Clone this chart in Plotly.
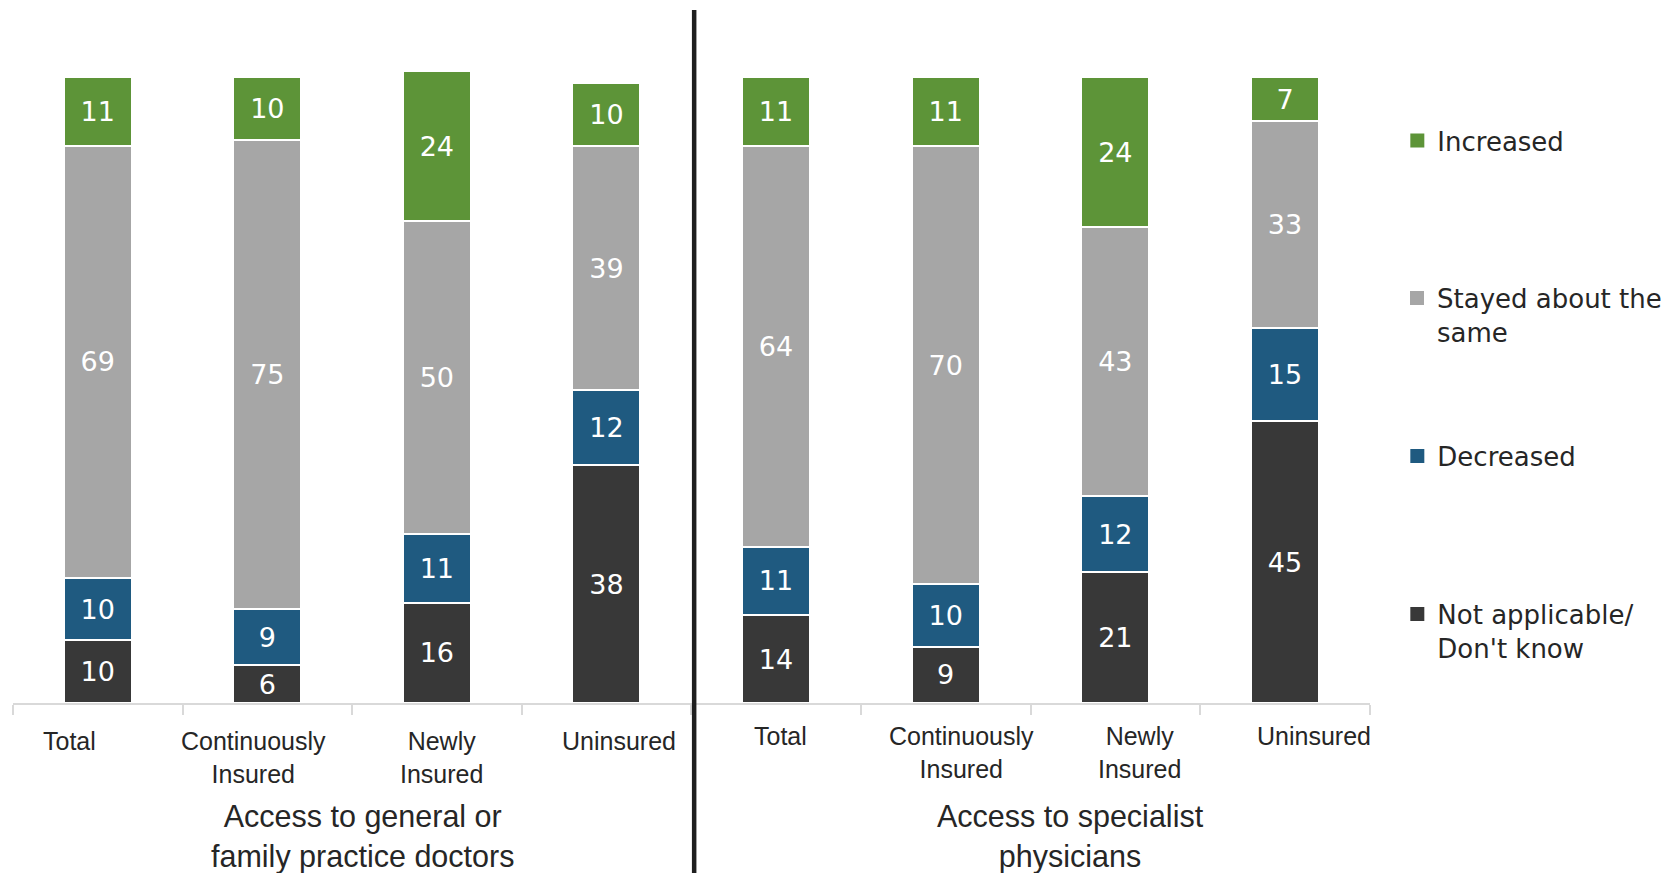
import plotly.graph_objects as go

# Survey categories and response shares (%)
categories = ["Total", "Continuously Insured", "Newly Insured", "Uninsured"]
tick_labels = ["Total", "Continuously<br>Insured", "Newly<br>Insured", "Uninsured"]
panel_titles = ["Access to general or<br>family practice doctors",
                "Access to specialist<br>physicians"]

series_names = ["Not applicable/<br>Don't know", "Decreased",
                "Stayed about the<br>same", "Increased"]

gp_na = [10, 6, 16, 38]
gp_decreased = [10, 9, 11, 12]
gp_same = [69, 75, 50, 39]
gp_increased = [11, 10, 24, 10]

sp_na = [14, 9, 21, 45]
sp_decreased = [11, 10, 12, 15]
sp_same = [64, 70, 43, 33]
sp_increased = [11, 11, 24, 7]

colors = ["#383838", "#1f5a80", "#a6a6a6", "#5d9438"]

W, H = 1667, 873
MB = 170
PLOT_H = H - MB
PX_PER_UNIT = 6.258

fig = go.Figure()

panels = [
    ("x", [gp_na, gp_decreased, gp_same, gp_increased]),
    ("x2", [sp_na, sp_decreased, sp_same, sp_increased]),
]

for xref, stacks in panels:
    for name, vals, col in zip(series_names, stacks, colors):
        fig.add_trace(go.Bar(
            x=categories, y=vals, name=name, xaxis=xref, yaxis="y",
            marker=dict(color=col, line=dict(color="white", width=2)),
            text=vals, textposition="inside", insidetextanchor="middle",
            textangle=0, constraintext="none",
            textfont=dict(family="DejaVu Sans", size=27, color="white"),
            showlegend=False, hoverinfo="skip",
        ))

# Legend entries, one legend per item so each can sit at its own height
legend_ids = ["legend", "legend2", "legend3", "legend4"]
legend_tops = [117, 274.5, 432.5, 590.5]
order = [3, 2, 1, 0]  # Increased at the top
for lid, idx in zip(legend_ids, order):
    fig.add_trace(go.Scatter(
        x=[None], y=[None], mode="markers", xaxis="x", yaxis="y",
        marker=dict(symbol="square", size=14, color=colors[idx]),
        name=series_names[idx], legend=lid, showlegend=True, hoverinfo="skip",
    ))

legend_common = dict(
    x=1399 / W, xanchor="left", yanchor="top", valign="top",
    font=dict(family="DejaVu Sans", size=26, color="#262626"),
    bgcolor="rgba(0,0,0,0)", borderwidth=0,
)
for lid, top in zip(legend_ids, legend_tops):
    fig.layout[lid] = dict(legend_common, y=(PLOT_H - top) / PLOT_H)

axis_common = dict(
    type="category", showgrid=False, zeroline=False,
    showline=True, linecolor="#d9d9d9", linewidth=2,
    ticks="outside", tickson="boundaries", ticklen=10,
    tickcolor="#d9d9d9", tickwidth=2,
    showticklabels=False, range=[-0.5, 3.5], fixedrange=True,
)

fig.update_layout(
    width=W, height=H, autosize=False,
    margin=dict(l=0, r=0, t=0, b=MB),
    paper_bgcolor="white", plot_bgcolor="white",
    barmode="stack", bargap=0.6,
    xaxis=dict(axis_common, domain=[13 / W, 692 / W], anchor="y"),
    xaxis2=dict(axis_common, domain=[692 / W, 1371.5 / W], anchor="y"),
    yaxis=dict(range=[0, PLOT_H / PX_PER_UNIT], visible=False, fixedrange=True),
)

# Category labels under each bar
label_font = dict(family="Liberation Sans", size=25, color="#262626")
left_shift = [-28, -14, 5, 13]
right_shift = [4, 16, 24, 29]
for xref, shifts, base in (("x", left_shift, -38), ("x2", right_shift, -33)):
    for cat, lab, dx in zip(categories, tick_labels, shifts):
        two_lines = "<br>" in lab
        fig.add_annotation(
            x=cat, xref=xref, y=0, yref="paper", text=lab, showarrow=False,
            xanchor="center", yanchor="middle", xshift=dx,
            yshift=base - (16 if two_lines else 0),
            font=label_font, align="center",
        )

# Panel titles
title_font = dict(family="Liberation Sans", size=30.5, color="#262626")
for xc, title in zip([363, 1072], panel_titles):
    fig.add_annotation(
        x=xc / W, xref="paper", y=0, yref="paper", text=title, showarrow=False,
        xanchor="center", yanchor="middle", yshift=-133,
        font=title_font, align="center",
    )

# Divider between the two panels
fig.add_shape(
    type="line", xref="paper", yref="paper",
    x0=695 / W, x1=695 / W,
    y0=(PLOT_H - H) / PLOT_H, y1=(PLOT_H - 10) / PLOT_H,
    line=dict(color="#1f1f1f", width=4.5), layer="above",
)

page_script = (
    "document.documentElement.style.overflow='hidden';"
    "document.body.style.margin='0';"
    "document.body.style.overflow='hidden';"
)

fig.write_html("out.html", config={"responsive": False}, post_script=page_script)
